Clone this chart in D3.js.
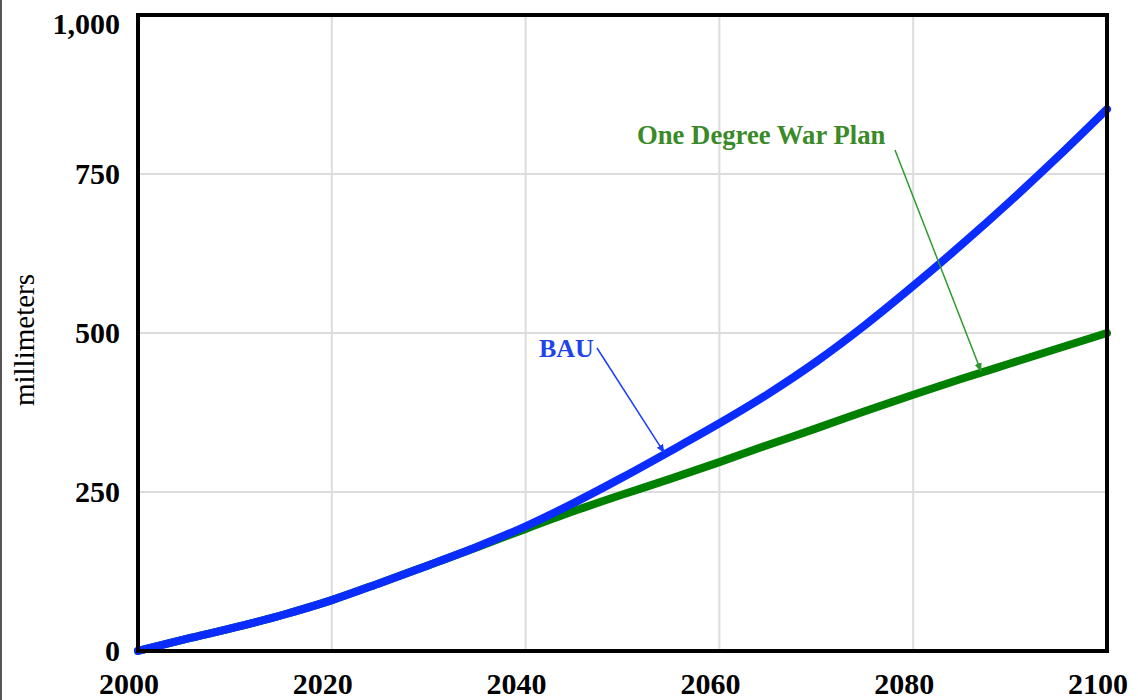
<!DOCTYPE html>
<html>
<head>
<meta charset="utf-8">
<script src="https://cdn.jsdelivr.net/npm/d3@7"></script>
<style>
  body { margin: 0; background: #fff; }
  svg { display: block; }
  text { font-family: "Liberation Serif", "Times New Roman", serif; }
</style>
</head>
<body>
<div id="chart"></div>
<script>
// sea level rise, millimeters, every 5 years
var years = [2000, 2005, 2010, 2015, 2020, 2025, 2030, 2035, 2040, 2045, 2050,
             2055, 2060, 2065, 2070, 2075, 2080, 2085, 2090, 2095, 2100];
var bau   = [0, 19, 37, 57, 80, 107, 135, 164, 196, 233, 273,
             315, 358, 404, 455, 512, 574, 639, 707, 778, 852];
var plan  = [0, 19, 37, 57, 80, 107, 135, 163, 192, 220, 246,
             271, 297, 324, 350, 377, 403, 428, 452, 476, 500];
var xTicks = [2000, 2020, 2040, 2060, 2080, 2100];
var yTicks = [0, 250, 500, 750, 1000];

var width = 1138, height = 700;
var margin = {top: 15, right: 31, bottom: 49, left: 138};

var svg = d3.select("#chart").append("svg")
    .attr("width", width).attr("height", height);

var x = d3.scaleLinear().domain([2000, 2100]).range([margin.left, width - margin.right]);
var y = d3.scaleLinear().domain([0, 1000]).range([height - margin.bottom, margin.top]);

// gray edge of the picture on the left
svg.append("rect").attr("x", 0).attr("y", 0).attr("width", 2).attr("height", height).attr("fill", "#555");

// grid
svg.append("g").selectAll("line").data(xTicks.slice(1, -1)).join("line")
    .attr("x1", d => x(d)).attr("x2", d => x(d))
    .attr("y1", y(1000)).attr("y2", y(0))
    .attr("stroke", "#dcdcdc").attr("stroke-width", 2);
svg.append("g").selectAll("line").data(yTicks.slice(1, -1)).join("line")
    .attr("x1", x(2000)).attr("x2", x(2100))
    .attr("y1", d => y(d)).attr("y2", d => y(d))
    .attr("stroke", "#dcdcdc").attr("stroke-width", 2);

// series
var line = d3.line().x(d => x(d[0])).y(d => y(d[1])).curve(d3.curveMonotoneX);
svg.append("path").datum(d3.zip(years, plan))
    .attr("d", line).attr("fill", "none")
    .attr("stroke", "#008000").attr("stroke-width", 8).attr("stroke-linecap", "round");
svg.append("path").datum(d3.zip(years, bau))
    .attr("d", line).attr("fill", "none")
    .attr("stroke", "#0a2cff").attr("stroke-width", 8).attr("stroke-linecap", "round");

// frame
svg.append("rect")
    .attr("x", x(2000)).attr("y", y(1000))
    .attr("width", x(2100) - x(2000)).attr("height", y(0) - y(1000))
    .attr("fill", "none").attr("stroke", "#000").attr("stroke-width", 4);

// tick labels
svg.append("g").selectAll("text").data(yTicks).join("text")
    .attr("x", 120)
    .attr("y", d => Math.max(y(d), 24))
    .attr("dy", "0.34em")
    .attr("text-anchor", "end")
    .attr("font-size", 30).attr("font-weight", "bold")
    .text(d => d3.format(",")(d));
svg.append("g").selectAll("text").data(xTicks).join("text")
    .attr("x", d => x(d) - 9)
    .attr("y", 694)
    .attr("text-anchor", "middle")
    .attr("font-size", 30).attr("font-weight", "bold")
    .text(d => d);

svg.append("text")
    .attr("transform", "translate(34,340) rotate(-90)")
    .attr("text-anchor", "middle")
    .attr("font-size", 29)
    .text("millimeters");

// annotations
var defs = svg.append("defs");
function marker(id, color) {
  defs.append("marker").attr("id", id)
      .attr("viewBox", "0 0 10 10").attr("refX", 9).attr("refY", 5)
      .attr("markerWidth", 6).attr("markerHeight", 6).attr("orient", "auto")
    .append("path").attr("d", "M0,1L10,5L0,9Z").attr("fill", color);
}
marker("arrBlue", "#1a3cff");
marker("arrGreen", "#2e9a2e");

svg.append("text").attr("x", 539).attr("y", 357)
    .attr("font-size", 26).attr("font-weight", "bold").attr("fill", "#1f44e8")
    .text("BAU");
svg.append("line")
    .attr("x1", 597).attr("y1", 348)
    .attr("x2", x(2054.3)).attr("y2", y(312))
    .attr("stroke", "#1a3cff").attr("stroke-width", 1.5)
    .attr("marker-end", "url(#arrBlue)");

svg.append("text").attr("x", 637).attr("y", 144)
    .attr("font-size", 26.7).attr("font-weight", "bold").attr("fill", "#3a8a28")
    .text("One Degree War Plan");
svg.append("line")
    .attr("x1", 895).attr("y1", 150)
    .attr("x2", x(2087)).attr("y2", y(440))
    .attr("stroke", "#2e9a2e").attr("stroke-width", 1.5)
    .attr("marker-end", "url(#arrGreen)");
</script>
</body>
</html>
